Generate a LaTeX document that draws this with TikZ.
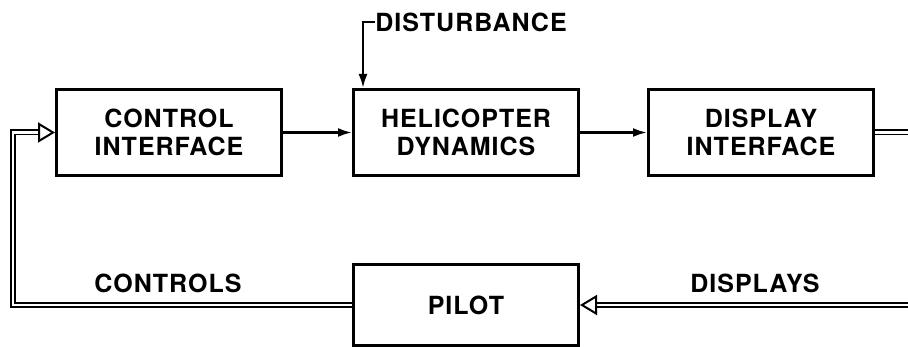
\documentclass[tikz,border=0pt]{standalone}
\usepackage{fontspec}
\setmainfont{TeX Gyre Heros}[LetterSpace=4]
\usetikzlibrary{arrows.meta, positioning}

\begin{document}
\begin{tikzpicture}[
  x=0.5pt, y=-0.5pt,
  block/.style={
    draw, line width=1.5pt,
    font=\bfseries\fontsize{12.5}{14}\selectfont,
    align=center, inner sep=2pt,
    minimum width=112.5pt, minimum height=43pt
  },
  lbl/.style={font=\bfseries\fontsize{12.5}{14}\selectfont, inner sep=0pt},
  arr/.style={-{Latex[length=7pt,width=4.5pt]}, line width=1.2pt},
  dbl/.style={double, line width=0.8pt, double distance=1.4pt},
  dblarr/.style={dbl, -{Triangle[open, length=8.5pt, width=10pt, line width=1pt]}},
  node distance=34pt
]
\useasboundingbox (0,0) rectangle (908,347);

%% forward path
\node[block] (ctrl) at (169,132.5) {CONTROL\\INTERFACE};
\node[block, right=34.5pt of ctrl] (heli) {HELICOPTER\\DYNAMICS};
\node[block, right=33.5pt of heli] (disp) {DISPLAY\\INTERFACE};
\draw[arr] (ctrl) -- (heli);
\draw[arr] (heli) -- (disp);

%% disturbance
\node[lbl, anchor=west] (dist) at (375,22) {DISTURBANCE};
\draw[arr] (dist.west) -| ([xshift=5.5pt]heli.north west);

%% pilot loop
\node[block, below=43pt of heli, minimum height=40.5pt] (pilot) {PILOT};
\coordinate (rgt) at (908,0);
\draw[dbl] (disp.east) -- (rgt |- disp.east);
\draw[dblarr] (rgt |- pilot.east) -- (pilot.east);
\draw[dblarr] (pilot.west) -| ([xshift=-21pt]ctrl.west) -- (ctrl.west);

\node[lbl] (ctrllbl) at (168,283) {CONTROLS};
\node[lbl] (displbl) at (755,283) {DISPLAYS};

\end{tikzpicture}
\end{document}
